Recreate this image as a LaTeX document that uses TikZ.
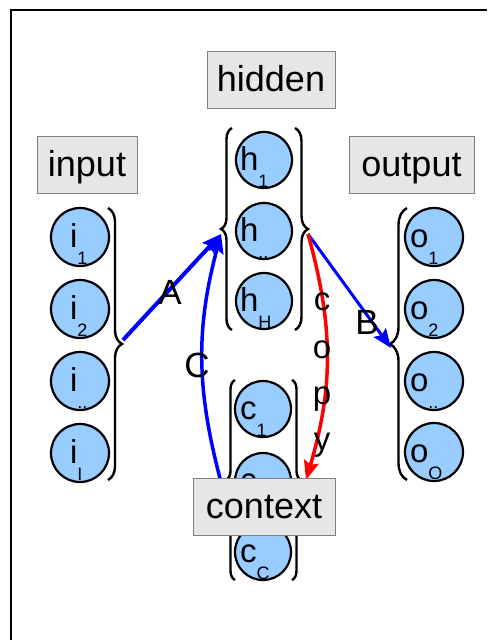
\documentclass[tikz,border=0pt]{standalone}
\usepackage{fontspec}
\setmainfont{Liberation Sans}
\usetikzlibrary{decorations.pathreplacing,arrows.meta,calc}

\definecolor{unitblue}{RGB}{153,204,255}
\definecolor{boxfill}{RGB}{230,230,230}
\definecolor{boxedge}{RGB}{128,128,128}

% letter with a lowered subscript, placed relative to the unit's centre
\newcommand{\unitlbl}[3]{%
  \smash{\makebox[0pt][l]{\hspace*{#1pt}%
    \raisebox{-10pt}{\fontsize{33}{33}\selectfont #2}%
    \raisebox{-27pt}{\fontsize{18}{18}\selectfont #3}}}}

\tikzset{
  unit/.style={circle, draw=black, line width=2.2pt, fill=unitblue,
               minimum size=#1, inner sep=0pt},
  unit/.default=56pt,
  lbox/.style={draw=boxedge, fill=boxfill, line width=0.8pt,
               minimum height=57pt, inner xsep=0pt, inner ysep=0pt,
               text height=28pt, text depth=4pt,
               font=\fontsize{36}{36}\selectfont},
  grp/.style={decorate, decoration={brace, amplitude=#1}, line width=2.4pt},
  flow/.style={line width=3.5pt, blue,
               -{Stealth[length=19pt, width=15pt, inset=3pt]}},
  wlbl/.style={font=\fontsize{35}{35}\selectfont, inner sep=0pt},
  clbl/.style={font=\fontsize{33}{33}\selectfont, inner sep=0pt, anchor=base}
}

\begin{document}
\begin{tikzpicture}[x=1pt, y=-1pt]
\useasboundingbox (0,0) rectangle (491,640);

% frame
\draw[line width=1.3pt] (11,640) -- (11,10) -- (487,10);

% input units
\node[unit=58pt] (i1) at (80,237) {\unitlbl{-10}{i}{1}};
\node[unit=58pt] (i2) at (80,309) {\unitlbl{-10}{i}{2}};
\node[unit=58pt] (i3) at (80,381) {\unitlbl{-10}{i}{..}};
\node[unit=58pt] (i4) at (80,453) {\unitlbl{-10}{i}{I}};

% hidden units
\node[unit] (h1) at (264,160) {\unitlbl{-24}{h}{1}};
\node[unit] (h2) at (264,231) {\unitlbl{-24}{h}{..}};
\node[unit] (h3) at (264,301) {\unitlbl{-24}{h}{H}};

% context units
\node[unit] (c1) at (263,409) {\unitlbl{-23}{c}{1}};
\node[unit] (c2) at (263,481) {\unitlbl{-23}{c}{..}};
\node[unit] (c3) at (263,552) {\unitlbl{-23}{c}{C}};

% output units
\node[unit=58pt] (o1) at (434,237) {\unitlbl{-24}{o}{1}};
\node[unit=58pt] (o2) at (434,309) {\unitlbl{-24}{o}{2}};
\node[unit=58pt] (o3) at (434,381) {\unitlbl{-24}{o}{..}};
\node[unit=58pt] (o4) at (434,452) {\unitlbl{-24}{o}{O}};

% braces grouping each layer
\draw[grp=14] (108,208) -- (108,480);
\draw[grp=17] (407,480) -- (407,208);
\draw[grp=11] (232,330) -- (232,128);
\draw[grp=13] (295,128) -- (295,330);
\draw[grp=9]  (235,580) -- (235,380);
\draw[grp=9]  (292,380) -- (292,580);

% brace tips used as connector ends
\coordinate (inTip)  at (123,340);
\coordinate (hidL)   at (221,234);
\coordinate (hidR)   at (308,234);
\coordinate (outTip) at (391,348);
\coordinate (ctxL)   at (221,482);
\coordinate (ctxR)   at (306,480);

% weights
\draw[flow, line width=4pt] (inTip) -- (hidL);
\draw[flow] (ctxL) to[bend left=15] (hidL);
\draw[flow, line width=3pt] (hidR) -- (outTip);
\draw[flow, red] (hidR) to[bend left=16] (ctxR);

% connector labels
\node[wlbl] (la) at (170,292) {A};
\node[wlbl] (lb) at (367,322) {B};
\node[wlbl] (lc) at (197,365) {C};
\node[clbl] (cp1) at (322,310) {c};
\node[clbl] (cp2) at (322,358) {o};
\node[clbl] (cp3) at (322,404) {p};
\node[clbl] (cp4) at (322,450) {y};

% layer names
\node[lbox, minimum width=128pt] (hidden) at (271,79.5)  {hidden};
\node[lbox, minimum width=100pt] (input)  at (87,164.5)  {input};
\node[lbox, minimum width=125pt] (output) at (411.5,164.5) {output};
\node[lbox, minimum width=142pt] (ctx)    at (264,506.5) {context};
\end{tikzpicture}
\end{document}
